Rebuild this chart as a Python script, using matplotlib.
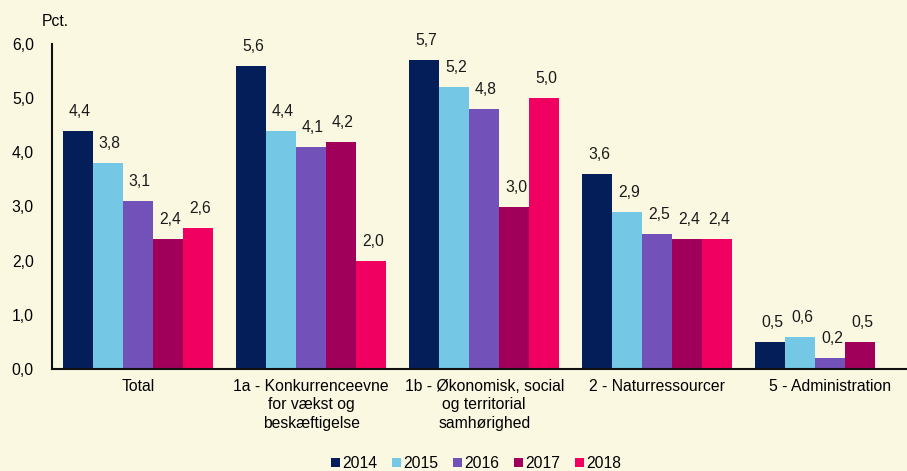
import numpy as np
import matplotlib.pyplot as plt

categories = ["Total", "1a - Konkurrenceevne\nfor vækst og\nbeskæftigelse",
              "1b - Økonomisk, social\nog territorial\nsamhørighed",
              "2 - Naturressourcer", "5 - Administration"]
years = ["2014", "2015", "2016", "2017", "2018"]
v2014 = [4.4, 5.6, 5.7, 3.6, 0.5]
v2015 = [3.8, 4.4, 5.2, 2.9, 0.6]
v2016 = [3.1, 4.1, 4.8, 2.5, 0.2]
v2017 = [2.4, 4.2, 3.0, 2.4, 0.5]
v2018 = [2.6, 2.0, 5.0, 2.4, np.nan]
series = [v2014, v2015, v2016, v2017, v2018]
colors = ["#041E5A", "#74C8E6", "#7252B8", "#A0005A", "#F00060"]
bg = "#FAF8E1"
fs = 11.3

plt.rcParams['font.family'] = ['Liberation Sans', 'DejaVu Sans']
fig = plt.figure(figsize=(9.07, 4.71), dpi=100, facecolor=bg)
ax = fig.add_axes([52/907, 1-369/471, 855/907, 325/471], facecolor=bg)

x = np.arange(len(categories))
bw = 30/173
for i, (vals, c, yr) in enumerate(zip(series, colors, years)):
    pos = x - 2*bw + i*bw
    ax.bar(pos, vals, width=bw, color=c, label=yr)
    for p, v in zip(pos, vals):
        if not np.isnan(v):
            ax.text(p + 0.01, v + 0.22, f"{v:.1f}".replace(".", ","), ha="center",
                    va="bottom", fontsize=fs, color="#1a1a1a")

ax.set_ylim(0, 6)
ax.set_xlim(-0.497, 4.5 - 10/173)
ax.set_yticks(np.arange(0, 7, 1))
ax.set_yticklabels([f"{t:.1f}".replace(".", ",") for t in np.arange(0, 7, 1)], fontsize=fs)
ax.set_xticks(x)
ax.set_xticklabels(categories, fontsize=fs, linespacing=1.3)
ax.tick_params(axis="both", length=0, pad=7)
ax.tick_params(axis="y", pad=13)
for s in ["top", "right"]:
    ax.spines[s].set_visible(False)
for s in ["left", "bottom"]:
    ax.spines[s].set_linewidth(1.5)
    ax.spines[s].set_color("#111111")
fig.text(42/907, 1-22/471, "Pct.", fontsize=fs, va="center", ha="left")

leg = fig.legend(loc="lower center", bbox_to_anchor=(0.525, -0.03), ncol=5, frameon=False,
                 fontsize=fs, handlelength=0.55, handleheight=0.55, handletextpad=0.15,
                 columnspacing=0.95)
fig.savefig("out.png", dpi=100, facecolor=bg)
